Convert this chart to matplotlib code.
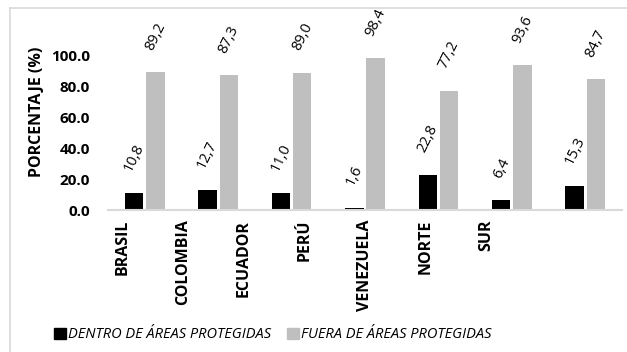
import matplotlib
matplotlib.use("Agg")
import matplotlib.pyplot as plt
from matplotlib.lines import Line2D
from matplotlib.patches import Patch
import numpy as np

categories = ["BRASIL", "COLOMBIA", "ECUADOR", "PERÚ", "VENEZUELA", "NORTE", "SUR"]
dentro = [10.8, 12.7, 11.0, 1.6, 22.8, 6.4, 15.3]
fuera = [89.2, 87.3, 89.0, 98.4, 77.2, 93.6, 84.7]
series_names = ["DENTRO DE ÁREAS PROTEGIDAS", "FUERA DE ÁREAS PROTEGIDAS"]
yticks = [0, 20, 40, 60, 80, 100]

plt.rcParams['font.family'] = ['Open Sans', 'DejaVu Sans']

W, H = 627, 352
fig = plt.figure(figsize=(W / 100, H / 100), dpi=100)
ax = fig.add_axes([108 / W, 1 - 210 / H, (622 - 108) / W, (210 - 55.6) / H])

x = np.arange(len(categories))
bw = 0.25
off = 0.145
b1 = ax.bar(x - off, dentro, bw, color="#000000")
b2 = ax.bar(x + off, fuera, bw, color="#bfbfbf")

for bars, vals in ((b1, dentro), (b2, fuera)):
    for r, v in zip(bars, vals):
        ax.annotate(f"{v:.1f}".replace(".", ","),
                    (r.get_x() + r.get_width() / 2, r.get_height()),
                    xytext=(0, 14), textcoords="offset points",
                    ha="center", va="bottom", rotation=64,
                    fontsize=10.5, annotation_clip=False)

ax.set_xlim(-0.5, len(categories) - 0.5)
ax.set_ylim(0, 100)
ax.set_yticks(yticks)
ax.set_yticklabels([f"{t:.1f}" for t in yticks], fontsize=11, fontweight="bold")
# tick label positions as laid out in the reference
tick_pos = -0.30 + 0.825 * x
ax.set_xticks(tick_pos)
ax.set_xticklabels(categories, rotation=90, fontsize=11.5, fontweight="bold")
ax.tick_params(axis="both", length=0)
ax.tick_params(axis="x", pad=7)
ax.tick_params(axis="y", pad=13)
for s in ("top", "right", "left"):
    ax.spines[s].set_visible(False)
ax.spines["bottom"].set_color("#d9d9d9")
ax.spines["bottom"].set_linewidth(1.5)

fig.text(37 / W, 1 - 112 / H, "PORCENTAJE (%)", rotation=90, ha="center", va="center",
         fontsize=11.5, fontweight="bold")

handles = [Patch(color="#000000"), Patch(color="#bfbfbf")]
fig.legend(handles, series_names, loc="center left", bbox_to_anchor=(41 / W, 1 - 335 / H),
           ncol=2, frameon=False, handlelength=0.8, handleheight=0.8, handletextpad=0.15,
           columnspacing=1.1, prop={"style": "italic", "size": 10.5})

# outer chart border (top and left visible)
fig.add_artist(Line2D([10 / W, 1], [1 - 8 / H, 1 - 8 / H], transform=fig.transFigure,
                      color="#d9d9d9", lw=1.2))
fig.add_artist(Line2D([10 / W, 10 / W], [1 - 8 / H, 0], transform=fig.transFigure,
                      color="#d9d9d9", lw=1.2))

fig.savefig("out.png", dpi=100)
